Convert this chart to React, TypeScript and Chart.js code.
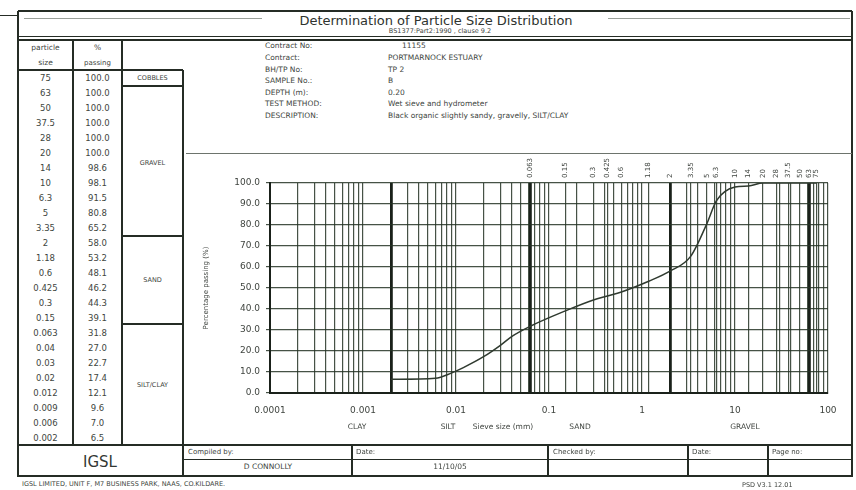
import React, { useEffect, useRef } from "react";
import { Chart, registerables } from "chart.js";

Chart.register(...registerables);

// Grading results (particle size in mm, percentage passing)
const particleSizes = ["75", "63", "50", "37.5", "28", "20", "14", "10", "6.3", "5", "3.35", "2", "1.18", "0.6", "0.425", "0.3", "0.15", "0.063", "0.04", "0.03", "0.02", "0.012", "0.009", "0.006", "0.002"];
const percentPassing = [100.0, 100.0, 100.0, 100.0, 100.0, 100.0, 98.6, 98.1, 91.5, 80.8, 65.2, 58.0, 53.2, 48.1, 46.2, 44.3, 39.1, 31.8, 27.0, 22.7, 17.4, 12.1, 9.6, 7.0, 6.5];

// Sieve apertures labelled along the top of the grading chart
const sieveLabels = ["0.063", "0.15", "0.3", "0.425", "0.6", "1.18", "2", "3.35", "5", "6.3", "10", "14", "20", "28", "37.5", "50", "63", "75"];

// Decade labels on the sieve size axis
const xTickLabels = ["0.0001", "0.001", "0.01", "0.1", "1", "10", "100"];

// Soil fraction boundaries (mm), drawn as heavy lines
const boundarySizes = [0.002, 0.063, 2, 63];

// Fraction names under the axis
const fractionLabels = ["CLAY", "SILT", "Sieve size (mm)", "SAND", "GRAVEL"];

// Header information
const infoLabels = ["Contract No:", "Contract:", "BH/TP No:", "SAMPLE No.:", "DEPTH (m):", "TEST METHOD:", "DESCRIPTION:"];
const infoValues = ["11155", "PORTMARNOCK ESTUARY", "TP 2", "B", "0.20", "Wet sieve and hydrometer", "Black organic slightly sandy, gravelly, SILT/CLAY"];

const FONT = '"DejaVu Sans", "Liberation Sans", sans-serif';
const INK = "#252c25";
const TEXT = "#404540";
const GRID = "rgba(38,52,38,0.85)";

const near = (a: number, b: number) => Math.abs(Math.log10(a) - Math.log10(b)) < 1e-6;

function gridValues(): number[] {
  const vals: number[] = [];
  for (let e = -4; e <= 1; e++) {
    for (let k = 1; k <= 9; k++) vals.push(k * Math.pow(10, e));
  }
  vals.push(100);
  sieveLabels.forEach((s) => vals.push(Number(s)));
  boundarySizes.forEach((s) => vals.push(s));
  vals.sort((a, b) => a - b);
  const out: number[] = [];
  vals.forEach((v) => {
    if (!out.length || !near(out[out.length - 1], v)) out.push(v);
  });
  return out;
}

type LineProps = { x: number; y: number; w: number; h: number; c?: string };
const Box = ({ x, y, w, h, c = INK }: LineProps) => (
  <div style={{ position: "absolute", left: x, top: y, width: w, height: h, background: c }} />
);
const H = (x1: number, x2: number, y: number, t = 1.5, c = INK) => <Box x={x1} y={y - t / 2} w={x2 - x1} h={t} c={c} />;
const V = (x: number, y1: number, y2: number, t = 1.5, c = INK) => <Box x={x - t / 2} y={y1} w={t} h={y2 - y1} c={c} />;

type TextProps = { x: number; y: number; children: React.ReactNode; size?: number; align?: "left" | "center"; color?: string; weight?: number };
const Txt = ({ x, y, children, size = 8, align = "left", color = TEXT, weight = 400 }: TextProps) => (
  <div
    style={{
      position: "absolute",
      left: x,
      top: y,
      transform: `translate(${align === "center" ? "-50%" : "0"}, -50%)`,
      fontFamily: FONT,
      fontSize: size,
      color,
      fontWeight: weight,
      whiteSpace: "nowrap",
      lineHeight: 1,
    }}
  >
    {children}
  </div>
);

const sieveLabelPlugin = {
  id: "sieveLabels",
  afterDraw(chart: any) {
    const { ctx, chartArea, scales } = chart;
    const x = scales.x;
    ctx.save();
    ctx.font = `7px ${FONT}`;
    ctx.fillStyle = TEXT;
    sieveLabels.forEach((lab) => {
      const px = x.getPixelForValue(Number(lab));
      ctx.save();
      ctx.translate(px, chartArea.top - 5);
      ctx.rotate(-Math.PI / 2);
      ctx.textAlign = "left";
      ctx.textBaseline = "middle";
      ctx.fillText(lab, 0, 0);
      ctx.restore();
    });
    ctx.restore();
  },
};

function GradingChart() {
  const ref = useRef<HTMLCanvasElement | null>(null);
  useEffect(() => {
    if (!ref.current) return;
    const points = particleSizes
      .map((s, i) => ({ x: Number(s), y: percentPassing[i] }))
      .sort((a, b) => a.x - b.x);
    const ticks = gridValues();
    const isBoundary = (c: any) => c.tick && boundarySizes.some((b) => near(b, c.tick.value));
    const chart = new Chart(ref.current, {
      type: "line",
      data: {
        datasets: [
          {
            data: points,
            borderColor: "#2f3a2f",
            borderWidth: 1.5,
            pointRadius: 0,
            cubicInterpolationMode: "monotone",
            fill: false,
          },
        ],
      },
      options: {
        animation: false,
        responsive: false,
        maintainAspectRatio: false,
        layout: { padding: { top: 30, right: 24, left: 0, bottom: 0 } },
        plugins: { legend: { display: false }, tooltip: { enabled: false } },
        scales: {
          x: {
            type: "logarithmic",
            min: 0.0001,
            max: 100,
            afterBuildTicks: (s: any) => {
              s.ticks = ticks.map((v) => ({ value: v }));
            },
            afterFit: (s: any) => {
              s.height = 47;
            },
            ticks: {
              autoSkip: false,
              maxRotation: 0,
              minRotation: 0,
              padding: 12,
              color: TEXT,
              font: { family: FONT, size: 9 },
              callback: (v: any) => {
                const lab = xTickLabels.find((t) => near(Number(t), Number(v)));
                return lab ?? "";
              },
            },
            grid: {
              drawTicks: false,
              color: (c: any) => (isBoundary(c) ? "#1a211a" : GRID),
              lineWidth: (c: any) => (isBoundary(c) ? 2.8 : 1.2),
            },
            border: { display: true, color: "#1a211a", width: 2 },
          },
          y: {
            min: 0,
            max: 100,
            afterFit: (s: any) => {
              s.width = 84;
            },
            ticks: {
              stepSize: 10,
              autoSkip: false,
              padding: 6,
              color: TEXT,
              font: { family: FONT, size: 9 },
              callback: (v: any) => Number(v).toFixed(1),
            },
            grid: { tickLength: 4, color: GRID, lineWidth: 1.2 },
            border: { display: true, color: "#1a211a", width: 2 },
            title: {
              display: true,
              text: "Percentage passing (%)",
              color: TEXT,
              font: { family: FONT, size: 7 },
              padding: { top: 16, bottom: 0 },
            },
          },
        },
      },
      plugins: [sieveLabelPlugin],
    });
    return () => chart.destroy();
  }, []);
  return (
    <canvas
      ref={ref}
      width={666}
      height={287}
      style={{ position: "absolute", left: 186, top: 153, width: 666, height: 287 }}
    />
  );
}

export default function App() {
  const rowTop = 70;
  const rowH = 15;
  const fractionX = [357, 448, 503, 580, 745];
  const infoY = [46, 58, 70, 81, 93, 104, 116];
  return (
    <div style={{ position: "absolute", left: 0, top: 0, width: 856, height: 490, background: "#fff", overflow: "hidden" }}>
      {/* header */}
      {H(0, 18, 15, 1)}
      {H(18, 852, 11, 2)}
      {H(24, 262, 18, 1, "#9aa09a")}
      {H(608, 850, 18, 1, "#9aa09a")}
      <Txt x={436} y={20} size={13} align="center" color="#2e332e">Determination of Particle Size Distribution</Txt>
      <Txt x={440} y={31} size={6.5} align="center">BS1377:Part2:1990 , clause 9.2</Txt>
      {H(18, 852, 36.5, 1)}
      {H(18, 852, 40, 2)}

      {/* outer frame */}
      {V(18, 11, 477, 2)}
      {V(852, 11, 477, 2)}

      {/* results table */}
      {V(73, 40, 445, 1.5)}
      {V(122, 40, 445, 2)}
      {H(18, 122, 70, 1.5)}
      <Txt x={45.5} y={48} size={7.5} align="center">particle</Txt>
      <Txt x={45.5} y={63} size={7.5} align="center">size</Txt>
      <Txt x={97.5} y={48} size={7.5} align="center">%</Txt>
      <Txt x={97.5} y={63} size={7} align="center">passing</Txt>
      {particleSizes.map((s, i) => (
        <React.Fragment key={s}>
          <Txt x={45.5} y={rowTop + rowH * i + 8} size={8.5} align="center">{s}</Txt>
          <Txt x={97.5} y={rowTop + rowH * i + 8} size={8.5} align="center">{percentPassing[i].toFixed(1)}</Txt>
        </React.Fragment>
      ))}

      {/* fraction column */}
      {H(122, 183, 70, 1.5)}
      {V(183, 70, 477, 2)}
      {H(122, 183, 86, 1.5)}
      {H(122, 183, 236, 1.5)}
      {H(122, 183, 324, 1.5)}
      <Txt x={152.5} y={78} size={6.5} align="center">COBBLES</Txt>
      <Txt x={152.5} y={163} size={6.5} align="center">GRAVEL</Txt>
      <Txt x={152.5} y={280} size={6.5} align="center">SAND</Txt>
      <Txt x={152.5} y={385} size={6.5} align="center">SILT/CLAY</Txt>

      {/* information block */}
      {infoLabels.map((l, i) => (
        <Txt key={l} x={265} y={infoY[i]} size={7.5}>{l}</Txt>
      ))}
      {infoValues.map((v, i) => (
        <Txt key={v} x={i === 0 ? 402 : 388} y={infoY[i]} size={7.5}>{v}</Txt>
      ))}
      {H(186, 852, 153, 1, "#6d746d")}

      {/* chart */}
      <GradingChart />
      {fractionLabels.map((f, i) => (
        <Txt key={f} x={fractionX[i]} y={427} size={7.5} align="center">{f}</Txt>
      ))}

      {/* signature row */}
      {H(18, 852, 445, 2)}
      {H(183, 852, 459, 1)}
      {H(18, 852, 476, 2.5)}
      {V(352, 445, 476, 1.2)}
      {V(548, 445, 476, 1.2)}
      {V(688, 445, 476, 1.2)}
      {V(768, 445, 476, 1.2)}
      <Txt x={188} y={452} size={7}>Compiled by:</Txt>
      <Txt x={356} y={452} size={7}>Date:</Txt>
      <Txt x={553} y={452} size={7}>Checked by:</Txt>
      <Txt x={692} y={452} size={7}>Date:</Txt>
      <Txt x={772} y={452} size={7}>Page no:</Txt>
      <Txt x={268} y={467} size={7.5} align="center">D CONNOLLY</Txt>
      <Txt x={450} y={467} size={7.5} align="center">11/10/05</Txt>
      <Txt x={100} y={462} size={15} align="center" color="#333833">IGSL</Txt>

      {/* footer */}
      <Txt x={22} y={484} size={6.5}>IGSL LIMITED, UNIT F, M7 BUSINESS PARK, NAAS, CO.KILDARE.</Txt>
      <Txt x={742} y={485} size={6.5}>PSD V3.1 12.01</Txt>
    </div>
  );
}
